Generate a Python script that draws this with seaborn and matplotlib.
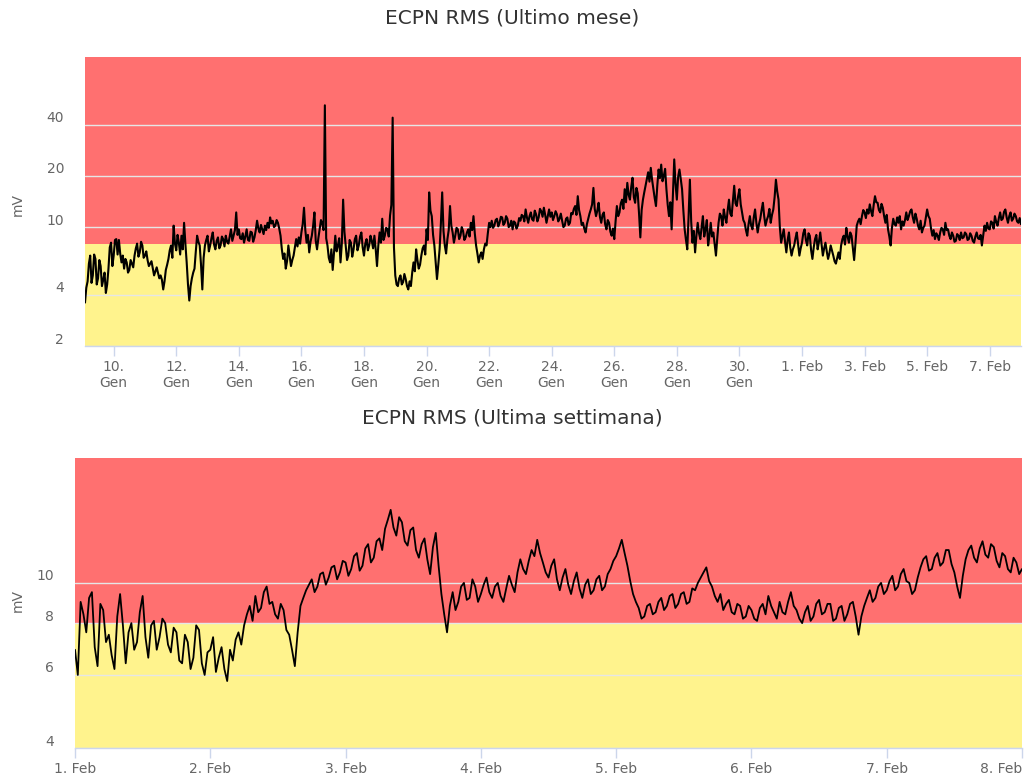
import matplotlib
matplotlib.use("Agg")
import matplotlib.pyplot as plt
import matplotlib.transforms as mtransforms
from matplotlib.ticker import NullLocator
import pandas as pd
import seaborn as sns

sns.set_theme(style="white")
plt.rcParams["font.family"] = ["DejaVu Sans"]

# ---------------- data ----------------
month_title = "ECPN RMS (Ultimo mese)"
week_title = "ECPN RMS (Ultima settimana)"
y_label = "mV"
alarm_threshold = 8

# Last month: hourly samples from 9 Jan 02:00 (two rows per day)
month_start = "2021-01-09 02:00"
month_values = [
    3.6, 4.4, 4.8, 6.1, 6.8, 4.7, 5.2, 6.9, 6.5, 4.6, 5.0, 6.4,
    5.9, 4.5, 4.9, 5.4, 4.1, 4.6, 5.7, 7.6, 8.1, 5.9, 6.8, 8.4,
    8.5, 6.9, 8.4, 7.0, 6.2, 6.8, 5.7, 6.5, 6.2, 5.4, 5.6, 6.4,
    6.1, 5.8, 6.8, 7.5, 8.0, 6.7, 7.1, 8.2, 7.8, 6.6, 6.8, 7.2,
    6.4, 5.9, 6.1, 6.3, 5.7, 5.2, 5.5, 5.8, 5.4, 5.0, 5.2, 4.9,
    4.3, 4.8, 5.6, 6.0, 6.5, 7.3, 7.8, 6.6, 10.2, 8.0, 7.3, 9.0,
    8.1, 6.9, 8.9, 7.4, 10.6, 8.0, 6.2, 4.6, 3.7, 4.5, 5.0, 5.4,
    5.7, 7.2, 8.9, 8.2, 7.8, 6.0, 4.3, 6.6, 7.8, 8.4, 8.9, 7.2,
    7.8, 8.6, 9.3, 7.9, 7.4, 8.3, 8.7, 7.5, 7.8, 8.8, 8.5, 7.7,
    8.9, 8.2, 8.0, 8.8, 9.7, 8.3, 8.9, 9.6, 12.2, 9.0, 9.7, 8.6,
    8.5, 9.2, 8.1, 8.8, 9.7, 8.4, 8.3, 9.4, 9.3, 8.2, 8.7, 9.6,
    10.9, 9.8, 9.3, 10.3, 9.7, 9.1, 10.2, 9.6, 10.6, 9.9, 11.4, 10.5,
    10.9, 10.0, 10.2, 11.0, 10.6, 9.8, 8.9, 7.4, 6.5, 7.0, 5.7, 6.3,
    7.8, 6.8, 5.9, 6.4, 6.8, 7.6, 8.5, 7.7, 8.7, 8.0, 9.3, 10.4,
    13.0, 9.6, 8.1, 9.0, 7.1, 8.2, 8.9, 10.2, 12.2, 8.3, 7.4, 8.6,
    9.7, 11.0, 10.5, 9.6, 52.0, 8.6, 7.8, 6.6, 6.2, 7.4, 5.6, 7.0,
    8.9, 7.2, 7.8, 8.6, 6.2, 8.0, 14.5, 9.4, 7.8, 6.4, 6.8, 8.4,
    8.1, 6.7, 7.4, 8.5, 8.9, 7.3, 7.8, 8.8, 9.3, 7.6, 6.8, 8.0,
    8.5, 7.3, 7.8, 8.9, 8.3, 7.5, 8.9, 7.4, 5.9, 7.8, 9.3, 8.1,
    11.2, 8.4, 8.9, 9.9, 9.7, 8.8, 11.7, 13.5, 44.0, 7.6, 5.2, 4.6,
    4.5, 5.0, 5.2, 4.6, 4.75, 5.3, 4.95, 4.5, 4.3, 4.8, 4.5, 5.4,
    6.2, 5.5, 7.4, 6.4, 5.7, 6.0, 6.8, 7.5, 7.8, 6.9, 9.7, 8.4,
    16.0, 12.5, 11.6, 9.0, 7.8, 6.2, 4.95, 6.0, 7.4, 10.5, 16.0, 9.5,
    7.8, 7.0, 8.5, 9.6, 13.3, 10.2, 9.3, 8.1, 8.9, 9.9, 9.7, 8.5,
    8.9, 10.0, 9.5, 8.4, 8.7, 9.3, 9.7, 8.8, 10.6, 9.6, 11.6, 9.2,
    7.8, 7.0, 6.2, 6.8, 7.1, 6.5, 7.4, 8.0, 7.8, 9.2, 10.6, 10.0,
    10.9, 9.9, 10.2, 11.0, 11.2, 10.1, 10.6, 11.5, 11.4, 10.3, 10.6, 11.6,
    11.2, 10.0, 10.2, 10.9, 9.7, 10.8, 10.6, 9.8, 10.2, 11.3, 10.9, 11.8,
    11.6, 10.8, 12.7, 11.4, 10.6, 11.6, 12.2, 11.1, 10.9, 12.5, 11.9, 10.8,
    11.4, 12.8, 12.4, 11.5, 13.0, 11.8, 10.6, 11.6, 12.7, 11.5, 12.2, 11.0,
    11.6, 12.4, 11.9, 10.8, 11.2, 12.0, 10.9, 10.0, 10.2, 11.2, 11.4, 10.3,
    10.6, 12.1, 11.9, 12.8, 13.3, 11.8, 15.2, 12.6, 11.6, 10.3, 10.6, 9.8,
    9.3, 10.4, 11.2, 12.0, 12.7, 13.6, 17.0, 12.8, 11.6, 12.5, 13.9, 11.5,
    10.6, 11.8, 12.2, 10.4, 9.7, 11.0, 10.6, 9.4, 8.9, 9.8, 8.5, 10.8,
    13.3, 11.6, 12.2, 13.8, 14.5, 12.8, 16.7, 14.0, 18.2, 15.5, 14.5, 17.2,
    19.5, 15.0, 13.9, 17.0, 15.8, 12.0, 8.7, 12.6, 14.5, 16.0, 17.5, 19.2,
    21.0, 18.5, 22.3, 19.0, 16.7, 14.8, 13.3, 17.5, 21.8, 19.4, 23.3, 18.6,
    20.0, 22.0, 16.7, 13.5, 11.6, 14.0, 9.7, 15.5, 25.0, 18.0, 14.5, 19.8,
    21.8, 19.2, 16.7, 12.5, 9.7, 8.4, 7.4, 11.5, 19.0, 10.8, 8.1, 9.5,
    7.1, 8.9, 10.6, 9.2, 8.5, 10.0, 11.6, 8.8, 9.7, 11.0, 7.8, 8.9,
    10.6, 8.8, 9.3, 8.0, 6.8, 8.6, 10.6, 12.0, 11.6, 10.2, 12.7, 11.4,
    10.6, 12.6, 14.5, 12.0, 11.6, 14.2, 17.5, 13.8, 13.3, 15.2, 16.7, 13.6,
    12.2, 11.0, 10.6, 9.6, 8.9, 10.4, 11.6, 10.2, 9.7, 11.4, 12.7, 10.6,
    9.3, 10.4, 11.2, 12.6, 13.9, 11.6, 10.2, 11.0, 11.6, 12.8, 10.6, 11.8,
    12.7, 15.0, 19.0, 16.2, 14.5, 10.0, 8.1, 8.9, 9.7, 8.2, 7.1, 8.4,
    9.3, 7.6, 6.8, 7.4, 7.8, 8.6, 9.3, 7.9, 6.8, 7.5, 8.1, 9.2,
    9.7, 8.4, 7.8, 9.2, 8.9, 7.3, 6.5, 7.6, 8.5, 9.0, 7.4, 8.2,
    9.3, 7.9, 6.8, 7.5, 8.1, 7.2, 6.5, 7.0, 7.8, 7.3, 6.8, 6.3,
    6.1, 6.6, 7.1, 6.5, 7.8, 8.5, 8.9, 7.9, 9.9, 8.8, 8.1, 9.3,
    8.9, 7.5, 6.4, 8.0, 10.2, 10.8, 11.2, 10.4, 11.6, 12.6, 12.2, 11.3,
    12.7, 12.0, 13.6, 12.4, 11.6, 13.5, 15.2, 14.0, 13.9, 12.6, 12.2, 13.7,
    13.0, 11.6, 10.6, 11.8, 9.7, 8.8, 7.8, 9.9, 11.2, 10.4, 10.2, 11.4,
    10.6, 11.6, 9.7, 10.8, 10.2, 11.0, 12.2, 11.0, 11.6, 12.4, 12.7, 11.4,
    10.6, 12.0, 11.2, 10.2, 9.7, 10.9, 9.3, 9.9, 10.2, 11.4, 12.7, 11.6,
    11.2, 9.8, 8.9, 9.6, 8.5, 9.2, 8.9, 8.4, 9.3, 9.9, 9.7, 9.0,
    10.6, 9.6, 9.7, 8.9, 8.5, 9.3, 8.9, 8.2, 8.3, 9.1, 8.9, 8.4,
    9.3, 8.6, 8.7, 9.3, 9.1, 8.4, 8.5, 9.2, 8.9, 8.3, 8.1, 8.8,
    9.3, 8.6, 8.5, 9.0, 7.8, 8.9, 10.2, 9.5, 10.6, 9.8, 9.7, 10.8,
    10.6, 9.8, 11.6, 10.7, 10.2, 11.3, 12.2, 11.0, 11.2, 12.3, 12.7, 11.4,
    10.6, 11.6, 12.2, 10.9, 11.2, 12.0, 11.6, 10.8, 10.6, 11.3, 10.4,
]

# Last week: half-hourly samples from 1 Feb 00:00 (four rows per day)
week_start = "2021-02-01 00:00"
week_values = [
    # 1 Feb
    6.9, 6.0, 9.0, 8.4, 7.6, 9.2, 9.5, 7.0, 6.3, 8.9, 8.6, 7.2,
    7.5, 6.7, 6.2, 8.3, 9.4, 7.9, 6.4, 7.6, 8.0, 6.9, 7.2, 8.5,
    9.3, 7.4, 6.6, 7.9, 8.1, 6.9, 7.4, 8.2, 8.0, 7.1, 6.8, 7.8,
    7.6, 6.5, 6.4, 7.5, 7.2, 6.2, 6.6, 7.9, 7.7, 6.4, 6.0, 6.8,
    # 2 Feb
    6.9, 7.4, 6.1, 6.6, 7.0, 6.2, 5.8, 6.9, 6.5, 7.3, 7.6, 7.1,
    7.9, 8.4, 8.8, 8.1, 9.3, 8.5, 8.7, 9.5, 9.8, 8.9, 9.0, 8.4,
    8.2, 8.9, 8.6, 7.7, 7.5, 6.9, 6.3, 7.6, 8.8, 9.2, 9.6, 9.9,
    10.2, 9.5, 9.8, 10.5, 10.6, 9.9, 10.3, 10.9, 11.0, 10.2, 10.6, 11.3,
    # 3 Feb
    11.2, 10.4, 10.8, 11.6, 11.8, 10.7, 11.0, 12.1, 12.4, 11.2, 11.5, 12.6,
    12.8, 12.0, 13.5, 14.2, 15.0, 13.6, 13.0, 14.4, 14.0, 12.6, 12.3, 13.4,
    13.6, 12.0, 11.5, 12.4, 12.8, 11.4, 10.5, 12.2, 13.2, 11.0, 9.4, 8.4,
    7.6, 8.8, 9.5, 8.6, 9.0, 9.8, 10.0, 9.1, 9.2, 10.2, 9.8, 9.0,
    # 4 Feb
    9.4, 9.9, 10.3, 9.5, 9.2, 9.8, 10.0, 9.3, 9.0, 9.7, 10.4, 9.9,
    9.5, 10.6, 11.4, 10.8, 10.5, 11.3, 12.0, 11.6, 12.7, 11.8, 11.2, 10.6,
    10.3, 11.0, 11.4, 10.2, 9.6, 10.3, 10.8, 9.9, 9.4, 10.1, 10.6, 9.7,
    9.2, 9.9, 10.2, 9.4, 9.6, 10.2, 10.4, 9.6, 9.8, 10.5, 10.8, 11.3,
    # 5 Feb
    11.6, 12.1, 12.7, 11.8, 11.0, 10.1, 9.4, 9.0, 8.7, 8.2, 8.3, 8.8,
    8.9, 8.4, 8.5, 9.0, 9.2, 8.6, 8.8, 9.3, 9.4, 8.7, 8.9, 9.4,
    9.5, 8.9, 9.0, 9.7, 9.6, 10.0, 10.3, 10.6, 10.9, 10.1, 9.8, 9.3,
    9.0, 9.4, 8.6, 8.9, 9.1, 8.5, 8.4, 8.9, 8.8, 8.2, 8.3, 8.8,
    # 6 Feb
    8.6, 8.2, 8.1, 8.7, 8.9, 8.4, 9.3, 8.8, 8.5, 8.2, 9.0, 8.5,
    8.4, 9.0, 9.5, 8.8, 8.6, 8.2, 8.0, 8.5, 8.8, 8.1, 8.3, 8.9,
    9.1, 8.4, 8.5, 8.9, 8.9, 8.1, 8.2, 8.7, 8.8, 8.1, 8.4, 8.9,
    9.0, 8.3, 7.5, 8.3, 8.8, 9.2, 9.6, 9.0, 9.2, 9.8, 10.0, 9.4,
    # 7 Feb
    9.6, 10.1, 10.4, 9.6, 9.8, 10.5, 10.8, 10.1, 10.0, 9.4, 9.6, 10.3,
    10.9, 11.4, 11.6, 10.7, 10.8, 11.5, 11.8, 11.0, 11.2, 12.0, 12.0, 11.1,
    10.6, 9.8, 9.2, 10.4, 11.4, 12.0, 12.3, 11.5, 11.2, 12.1, 12.6, 11.7,
    11.5, 12.4, 12.2, 11.3, 10.9, 11.8, 11.6, 10.8, 10.6, 11.5, 11.2, 10.5,
    # 8 Feb 00:00
    10.8,
]

month_yticks = [2, 4, 10, 20, 40]
month_ylim = (2, 100)
week_yticks = [4, 6, 8, 10]
week_ylim = (4, 20)

month_tick_dates = ["2021-01-10", "2021-01-12", "2021-01-14", "2021-01-16",
                    "2021-01-18", "2021-01-20", "2021-01-22", "2021-01-24",
                    "2021-01-26", "2021-01-28", "2021-01-30", "2021-02-01",
                    "2021-02-03", "2021-02-05", "2021-02-07"]
month_tick_labels = ["10.\nGen", "12.\nGen", "14.\nGen", "16.\nGen",
                     "18.\nGen", "20.\nGen", "22.\nGen", "24.\nGen",
                     "26.\nGen", "28.\nGen", "30.\nGen", "1. Feb",
                     "3. Feb", "5. Feb", "7. Feb"]
week_tick_dates = ["2021-02-01", "2021-02-02", "2021-02-03", "2021-02-04",
                   "2021-02-05", "2021-02-06", "2021-02-07", "2021-02-08"]
week_tick_labels = ["1. Feb", "2. Feb", "3. Feb", "4. Feb",
                    "5. Feb", "6. Feb", "7. Feb", "8. Feb"]

# ---------------- style ----------------
RED = "#FF7070"
YELLOW = "#FFF38D"
GRID = "#e6e6e6"
AXIS = "#ccd6eb"
LABEL = "#666666"
TITLE = "#333333"

fig = plt.figure(figsize=(10.25, 7.79), dpi=100)
ax_m = fig.add_axes([85 / 1025, 1 - 346 / 779, 936 / 1025, 289 / 779])
ax_w = fig.add_axes([75 / 1025, 1 - 748 / 779, 947 / 1025, 290 / 779])


def draw(ax, start, freq, values, ylim, yticks, tick_dates, tick_labels, lw):
    times = pd.date_range(start, periods=len(values), freq=freq)
    df = pd.DataFrame({"time": times, "value": values})
    ax.set_yscale("log")
    ax.axhspan(alarm_threshold, ylim[1], color=RED, lw=0, zorder=0.1)
    ax.axhspan(ylim[0], alarm_threshold, color=YELLOW, lw=0, zorder=0.1)
    sns.lineplot(data=df, x="time", y="value", ax=ax, color="black",
                 lw=lw, zorder=3)
    ax.set_xlim(times[0], times[-1])
    ax.set_ylim(*ylim)
    ax.set_yticks(yticks)
    ax.set_yticklabels([str(t) for t in yticks])
    ax.yaxis.set_minor_locator(NullLocator())
    ax.set_xticks(pd.to_datetime(tick_dates))
    ax.set_xticklabels(tick_labels)
    ax.xaxis.set_minor_locator(NullLocator())
    ax.set_axisbelow(True)
    ax.grid(axis="y", color=GRID, lw=1)
    ax.grid(axis="x", visible=False)
    ax.set_xlabel("")
    ax.set_ylabel("")
    for s in ("top", "left", "right"):
        ax.spines[s].set_visible(False)
    ax.spines["bottom"].set_color(AXIS)
    ax.spines["bottom"].set_linewidth(1)
    ax.tick_params(axis="x", bottom=True, direction="out", length=7.5,
                   width=1, color=AXIS, labelcolor=LABEL, labelsize=10,
                   pad=2.5)
    ax.tick_params(axis="y", left=False, length=0, labelcolor=LABEL,
                   labelsize=10, pad=15)
    shift = mtransforms.ScaledTranslation(0, 8 / 100, fig.dpi_scale_trans)
    for lab in ax.get_yticklabels():
        lab.set_transform(lab.get_transform() + shift)


draw(ax_m, month_start, "1h", month_values, month_ylim, month_yticks,
     month_tick_dates, month_tick_labels, 1.5)
draw(ax_w, week_start, "30min", week_values, week_ylim, week_yticks,
     week_tick_dates, week_tick_labels, 1.3)
ax_w.get_xticklabels()[-1].set_ha("right")

fig.text(0.5, 1 - 18 / 779, month_title, ha="center", va="center",
         fontsize=14.5, color=TITLE)
fig.text(0.5, 1 - 418 / 779, week_title, ha="center", va="center",
         fontsize=14.5, color=TITLE)
fig.text(18 / 1025, 1 - 205 / 779, y_label, rotation=90, ha="center",
         va="center", fontsize=10, color=LABEL)
fig.text(18 / 1025, 1 - 600 / 779, y_label, rotation=90, ha="center",
         va="center", fontsize=10, color=LABEL)

fig.savefig("out.png", dpi=100)
